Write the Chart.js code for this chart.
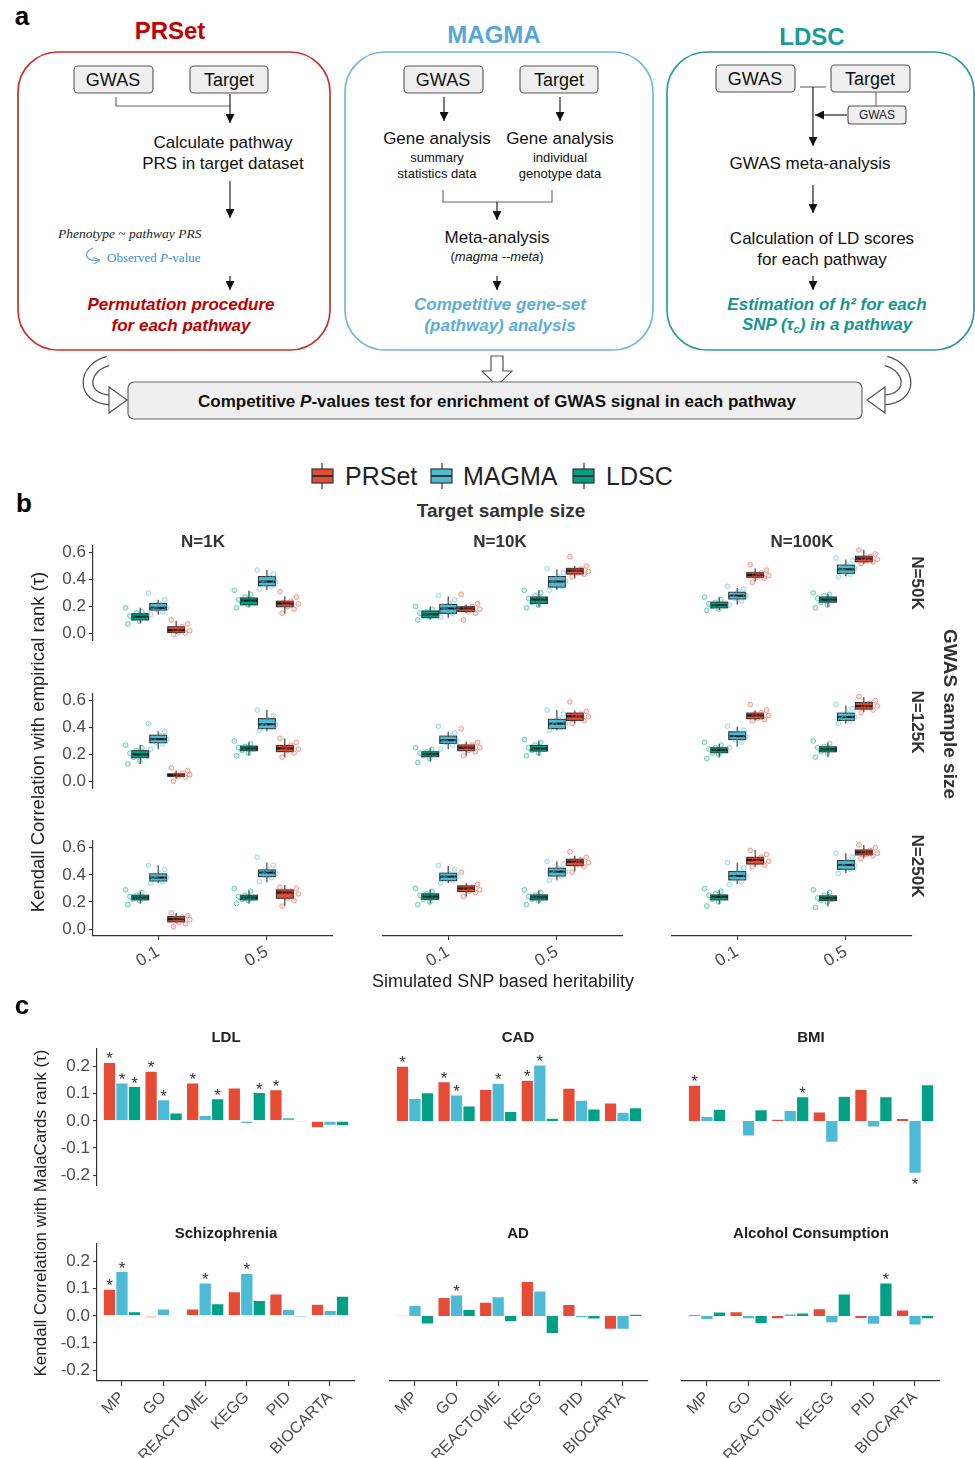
<!DOCTYPE html>
<html lang="en">
<head>
<meta charset="UTF-8" />
<title>PRSet / MAGMA / LDSC comparison</title>
<script src="https://cdn.jsdelivr.net/npm/chart.js@4"></script>
<style>
  body { margin: 0; background: #fff; font-family: "Liberation Sans", Arial, sans-serif; color: #222; }
  #page { position: relative; width: 975px; height: 1458px; overflow: hidden; background: #fff; }
  #page canvas { position: absolute; }
  .t { position: absolute; transform: translate(-50%, -50%); white-space: nowrap; line-height: 1; }
  .tl { position: absolute; transform: translate(0, -50%); white-space: nowrap; line-height: 1; }
  .up { transform: translate(-50%, -50%) rotate(-90deg); }
  .down { transform: translate(-50%, -50%) rotate(90deg); }
  .panel { font-weight: bold; font-size: 26px; color: #000; }
  .head { font-weight: bold; font-size: 24px; }
  .box { font-size: 18px; color: #111; }
  .step { font-size: 17px; color: #111; }
  .small { font-size: 13px; color: #111; }
  .res { font-size: 17px; font-weight: bold; font-style: italic; }
  .serif { font-family: "Liberation Serif", "DejaVu Serif", serif; }
  .strip { font-weight: bold; font-size: 17px; color: #333; }
  .ctitle { font-weight: bold; font-size: 15px; color: #222; }
  .leg { font-size: 25px; color: #222; }
</style>
</head>
<body>
<div id="page">

  <!-- panel a: flow chart -->
  <svg width="975" height="430" style="position:absolute;left:0;top:0">
    <defs>
      <marker id="ah" viewBox="0 0 10 10" refX="10" refY="5" markerUnits="userSpaceOnUse"
              markerWidth="9" markerHeight="9" orient="auto">
        <path d="M0,0 L10,5 L0,10 z" fill="#111" />
      </marker>
      <marker id="ahb" viewBox="0 0 10 10" refX="10" refY="5" markerUnits="userSpaceOnUse"
              markerWidth="7" markerHeight="7" orient="auto">
        <path d="M0,0 L10,5 L0,10" fill="none" stroke="#5aa6dc" stroke-width="1.5" />
      </marker>
    </defs>

    <rect x="18" y="52" width="312" height="298" rx="40" fill="none" stroke="#c9302c" stroke-width="1.7" />
    <rect x="345" y="52" width="308" height="298" rx="40" fill="none" stroke="#74b7dd" stroke-width="1.7" />
    <rect x="667" y="52" width="307" height="298" rx="40" fill="none" stroke="#2a9c97" stroke-width="1.7" />

    <g fill="#efefef" stroke="#555" stroke-width="1.1">
      <rect x="74" y="66" width="79" height="27" rx="4" />
      <rect x="190" y="66" width="78" height="27" rx="4" />
      <rect x="404" y="66" width="79" height="27" rx="4" />
      <rect x="520" y="66" width="78" height="27" rx="4" />
      <rect x="716" y="65" width="79" height="27" rx="4" />
      <rect x="831" y="65" width="79" height="27" rx="4" />
      <rect x="848" y="106" width="58" height="18" rx="3" />
    </g>

    <g fill="none" stroke="#666" stroke-width="1.1">
      <polyline points="116,97 116,106 230,106" />
      <polyline points="443,190 443,202 552,202 552,190" />
      <line x1="800" y1="87" x2="826" y2="87" />
      <line x1="876" y1="92" x2="876" y2="106" />
    </g>
    <g stroke="#222" stroke-width="1.2" marker-end="url(#ah)">
      <line x1="230" y1="94" x2="230" y2="123" />
      <line x1="230" y1="181" x2="230" y2="218" />
      <line x1="230" y1="276" x2="230" y2="290" />
      <line x1="444" y1="97" x2="444" y2="121" />
      <line x1="560" y1="97" x2="560" y2="121" />
      <line x1="497" y1="202" x2="497" y2="220" />
      <line x1="497" y1="276" x2="497" y2="290" />
      <line x1="813" y1="87" x2="813" y2="146" />
      <line x1="847" y1="115" x2="815" y2="115" />
      <line x1="813" y1="185" x2="813" y2="213" />
      <line x1="813" y1="276" x2="813" y2="290" />
    </g>
    <path d="M93,248 C83,252 84,262 100,260" fill="none" stroke="#5aa6dc" stroke-width="1.3" marker-end="url(#ahb)" />

    <!-- converging arrows -->
    <g fill="none" stroke-linecap="butt">
      <path d="M108,361 C82,368 80,398 110,400" stroke="#555" stroke-width="11" />
      <path d="M108,361 C82,368 80,398 110,400" stroke="#fff" stroke-width="8.4" />
      <path d="M886,361 C912,368 914,398 884,400" stroke="#555" stroke-width="11" />
      <path d="M886,361 C912,368 914,398 884,400" stroke="#fff" stroke-width="8.4" />
    </g>
    <polygon points="109,387 127,400 109,413" fill="#fff" stroke="#555" stroke-width="1.2" />
    <polygon points="885,387 867,400 885,413" fill="#fff" stroke="#555" stroke-width="1.2" />
    <polygon points="491,356 503,356 503,371 512,371 497,386 482,371 491,371" fill="#fff" stroke="#555" stroke-width="1.2" />
    <rect x="128" y="382" width="734" height="37" rx="6" fill="#efefef" stroke="#666" stroke-width="1.2" />
  </svg>

  <div class="t panel" style="left:22px;top:16px">a</div>
  <div class="t head" style="left:170px;top:31px;color:#c00000">PRSet</div>
  <div class="t head" style="left:494px;top:35px;color:#54a9d8">MAGMA</div>
  <div class="t head" style="left:812px;top:37px;color:#1a9b93">LDSC</div>

  <div class="t box" style="left:113px;top:80px">GWAS</div>
  <div class="t box" style="left:229px;top:80px">Target</div>
  <div class="t box" style="left:443px;top:80px">GWAS</div>
  <div class="t box" style="left:559px;top:80px">Target</div>
  <div class="t box" style="left:755px;top:79px">GWAS</div>
  <div class="t box" style="left:870px;top:79px">Target</div>
  <div class="t" style="left:877px;top:115px;font-size:12px">GWAS</div>

  <div class="t step" style="left:223px;top:142px">Calculate pathway</div>
  <div class="t step" style="left:223px;top:163px">PRS in target dataset</div>
  <div class="tl serif" style="left:58px;top:234px;font-size:13.5px;font-style:italic;color:#222">Phenotype ~ pathway PRS</div>
  <div class="tl serif" style="left:107px;top:257px;font-size:13px;color:#3a8fd0">Observed <i>P</i>-value</div>
  <div class="t res" style="left:181px;top:304px;color:#c00000">Permutation procedure</div>
  <div class="t res" style="left:181px;top:325px;color:#c00000">for each pathway</div>

  <div class="t step" style="left:437px;top:138px">Gene analysis</div>
  <div class="t small" style="left:437px;top:157px">summary</div>
  <div class="t small" style="left:437px;top:173px">statistics data</div>
  <div class="t step" style="left:560px;top:138px">Gene analysis</div>
  <div class="t small" style="left:560px;top:157px">individual</div>
  <div class="t small" style="left:560px;top:173px">genotype data</div>
  <div class="t step" style="left:497px;top:237px">Meta-analysis</div>
  <div class="t small" style="left:497px;top:256px">(<i>magma --meta</i>)</div>
  <div class="t res" style="left:500px;top:304px;color:#5aaed8">Competitive gene-set</div>
  <div class="t res" style="left:500px;top:325px;color:#5aaed8">(pathway) analysis</div>

  <div class="t step" style="left:810px;top:163px">GWAS meta-analysis</div>
  <div class="t step" style="left:822px;top:238px">Calculation of LD scores</div>
  <div class="t step" style="left:822px;top:259px">for each pathway</div>
  <div class="t res" style="left:827px;top:304px;color:#14968e">Estimation of h² for each</div>
  <div class="t res" style="left:827px;top:325px;color:#14968e">SNP (τ<span style="font-size:11px;vertical-align:-3px">c</span>) in a pathway</div>

  <div class="t" style="left:497px;top:401px;font-size:17px;font-weight:bold;color:#111">Competitive <i>P</i>-values test for enrichment of GWAS signal in each pathway</div>

  <!-- panel b labels -->
  <div class="t panel" style="left:24px;top:503px">b</div>
  <svg width="975" height="40" style="position:absolute;left:0;top:456px">
    <g stroke="#333" stroke-width="1.2">
      <line x1="322" y1="7" x2="322" y2="33" /><rect x="312" y="13" width="21" height="14" fill="#E64B35" />
      <line x1="312" y1="20" x2="333" y2="20" stroke-width="2" />
      <line x1="442" y1="7" x2="442" y2="33" /><rect x="431" y="13" width="21" height="14" fill="#4DBBD5" />
      <line x1="431" y1="20" x2="452" y2="20" stroke-width="2" />
      <line x1="584" y1="7" x2="584" y2="33" /><rect x="573" y="13" width="21" height="14" fill="#00A087" />
      <line x1="573" y1="20" x2="594" y2="20" stroke-width="2" />
    </g>
  </svg>
  <div class="tl leg" style="left:345px;top:476px">PRSet</div>
  <div class="tl leg" style="left:463px;top:476px">MAGMA</div>
  <div class="tl leg" style="left:606px;top:476px">LDSC</div>
  <div class="t" style="left:501px;top:510px;font-size:19px;font-weight:bold;color:#333">Target sample size</div>
  <div class="t strip" style="left:203px;top:541px">N=1K</div>
  <div class="t strip" style="left:500px;top:541px">N=10K</div>
  <div class="t strip" style="left:802px;top:541px">N=100K</div>
  <div class="t strip down" style="left:917px;top:583px">N=50K</div>
  <div class="t strip down" style="left:917px;top:722px">N=125K</div>
  <div class="t strip down" style="left:917px;top:866px">N=250K</div>
  <div class="t down" style="left:950px;top:714px;font-size:19px;font-weight:bold;color:#333">GWAS sample size</div>
  <div class="t up" style="left:38px;top:742px;font-size:18.5px;color:#222">Kendall Correlation with empirical rank (τ)</div>
  <div class="t" style="left:503px;top:981px;font-size:18px;color:#222">Simulated SNP based heritability</div>

  <!-- panel c labels -->
  <div class="t panel" style="left:22px;top:1005px">c</div>
  <div class="t up" style="left:40px;top:1213px;font-size:17px;color:#222">Kendall Correlation with MalaCards rank (τ)</div>
</div>

<script>
  // ---------- panel b: simulation box plots ----------
  const h2Labels = ["0.1", "0.5"];
  const bMethods = ["LDSC", "MAGMA", "PRSet"];
  const bTicks = [0, 0.2, 0.4, 0.6];

  // [whisker low, q1, median, q3, whisker high] per panel (row-major: GWAS N x target N), per h2
  const ldscBox = [
    [[0.075, 0.10, 0.124, 0.146, 0.19], [0.198, 0.212, 0.244, 0.263, 0.317]],
    [[0.105, 0.117, 0.141, 0.166, 0.20], [0.198, 0.222, 0.251, 0.27, 0.32]],
    [[0.173, 0.19, 0.21, 0.232, 0.27], [0.198, 0.232, 0.251, 0.27, 0.295]],
    [[0.13, 0.176, 0.20, 0.228, 0.27], [0.19, 0.228, 0.245, 0.262, 0.29]],
    [[0.147, 0.184, 0.203, 0.22, 0.245], [0.19, 0.225, 0.245, 0.267, 0.30]],
    [[0.18, 0.213, 0.233, 0.25, 0.277], [0.18, 0.22, 0.238, 0.257, 0.287]],
    [[0.19, 0.216, 0.233, 0.25, 0.275], [0.19, 0.216, 0.233, 0.25, 0.285]],
    [[0.19, 0.22, 0.24, 0.26, 0.29], [0.19, 0.216, 0.235, 0.252, 0.284]],
    [[0.186, 0.216, 0.238, 0.252, 0.284], [0.167, 0.211, 0.228, 0.245, 0.277]],
  ];
  const magmaBox = [
    [[0.14, 0.173, 0.19, 0.222, 0.25], [0.32, 0.354, 0.385, 0.422, 0.47]],
    [[0.117, 0.149, 0.185, 0.215, 0.275], [0.324, 0.344, 0.385, 0.422, 0.476]],
    [[0.215, 0.256, 0.28, 0.305, 0.337], [0.422, 0.446, 0.476, 0.507, 0.549]],
    [[0.238, 0.287, 0.314, 0.343, 0.375], [0.37, 0.392, 0.424, 0.466, 0.53]],
    [[0.238, 0.282, 0.306, 0.336, 0.368], [0.38, 0.392, 0.429, 0.461, 0.53]],
    [[0.257, 0.311, 0.336, 0.368, 0.404], [0.429, 0.453, 0.478, 0.507, 0.564]],
    [[0.34, 0.355, 0.38, 0.407, 0.47], [0.343, 0.387, 0.417, 0.436, 0.49]],
    [[0.338, 0.358, 0.387, 0.412, 0.466], [0.358, 0.392, 0.424, 0.449, 0.50]],
    [[0.333, 0.363, 0.392, 0.424, 0.49], [0.412, 0.441, 0.473, 0.505, 0.559]],
  ];
  const prsetBox = [
    [[-0.005, 0.007, 0.024, 0.049, 0.093], [0.146, 0.198, 0.222, 0.239, 0.276]],
    [[0.149, 0.163, 0.185, 0.198, 0.215], [0.41, 0.441, 0.466, 0.483, 0.50]],
    [[0.385, 0.417, 0.434, 0.451, 0.483], [0.515, 0.532, 0.556, 0.573, 0.622]],
    [[0.017, 0.037, 0.047, 0.056, 0.08], [0.18, 0.221, 0.245, 0.267, 0.32]],
    [[0.19, 0.228, 0.25, 0.27, 0.294], [0.43, 0.453, 0.483, 0.507, 0.527]],
    [[0.453, 0.466, 0.49, 0.507, 0.527], [0.515, 0.537, 0.56, 0.586, 0.625]],
    [[0.044, 0.054, 0.074, 0.093, 0.12], [0.172, 0.228, 0.27, 0.289, 0.326]],
    [[0.24, 0.277, 0.30, 0.319, 0.338], [0.424, 0.468, 0.497, 0.515, 0.54]],
    [[0.46, 0.48, 0.51, 0.529, 0.583], [0.522, 0.547, 0.566, 0.583, 0.62]],
  ];

  // individual replicate points (estimated from the figure)
  const ldscPts = [
    [[0.07, 0.09, 0.11, 0.12, 0.13, 0.15, 0.16, 0.19], [0.19, 0.21, 0.23, 0.24, 0.25, 0.27, 0.29, 0.32]],
    [[0.10, 0.12, 0.13, 0.14, 0.15, 0.16, 0.18, 0.20], [0.19, 0.21, 0.23, 0.25, 0.26, 0.28, 0.30, 0.32]],
    [[0.17, 0.18, 0.20, 0.21, 0.22, 0.23, 0.25, 0.27], [0.19, 0.21, 0.23, 0.25, 0.26, 0.28, 0.29, 0.30]],
    [[0.13, 0.15, 0.18, 0.20, 0.21, 0.23, 0.25, 0.27], [0.19, 0.21, 0.23, 0.24, 0.25, 0.26, 0.28, 0.30]],
    [[0.14, 0.17, 0.19, 0.20, 0.21, 0.22, 0.24, 0.25], [0.19, 0.21, 0.23, 0.24, 0.25, 0.27, 0.29, 0.31]],
    [[0.17, 0.20, 0.21, 0.23, 0.24, 0.25, 0.27, 0.29], [0.18, 0.21, 0.22, 0.24, 0.25, 0.26, 0.28, 0.30]],
    [[0.18, 0.21, 0.22, 0.23, 0.24, 0.25, 0.27, 0.29], [0.19, 0.21, 0.22, 0.23, 0.24, 0.25, 0.28, 0.30]],
    [[0.18, 0.20, 0.22, 0.24, 0.25, 0.26, 0.28, 0.30], [0.18, 0.21, 0.22, 0.23, 0.24, 0.25, 0.27, 0.29]],
    [[0.17, 0.20, 0.22, 0.24, 0.25, 0.26, 0.28, 0.30], [0.16, 0.20, 0.21, 0.22, 0.23, 0.25, 0.27, 0.29]],
  ];
  const magmaPts = [
    [[0.14, 0.16, 0.18, 0.19, 0.20, 0.22, 0.25, 0.30], [0.33, 0.35, 0.37, 0.38, 0.40, 0.42, 0.44, 0.47]],
    [[0.12, 0.15, 0.17, 0.19, 0.20, 0.22, 0.25, 0.28], [0.32, 0.35, 0.37, 0.39, 0.40, 0.42, 0.45, 0.48]],
    [[0.21, 0.24, 0.26, 0.28, 0.29, 0.31, 0.33, 0.35], [0.42, 0.44, 0.46, 0.48, 0.49, 0.51, 0.54, 0.56]],
    [[0.24, 0.28, 0.29, 0.31, 0.32, 0.34, 0.37, 0.43], [0.38, 0.40, 0.41, 0.42, 0.44, 0.46, 0.49, 0.53]],
    [[0.24, 0.27, 0.29, 0.30, 0.32, 0.34, 0.36, 0.41], [0.38, 0.40, 0.42, 0.43, 0.44, 0.46, 0.50, 0.53]],
    [[0.25, 0.29, 0.31, 0.33, 0.34, 0.36, 0.38, 0.41], [0.43, 0.45, 0.47, 0.48, 0.49, 0.51, 0.54, 0.57]],
    [[0.34, 0.35, 0.37, 0.38, 0.39, 0.41, 0.44, 0.47], [0.35, 0.38, 0.40, 0.41, 0.42, 0.44, 0.47, 0.53]],
    [[0.34, 0.36, 0.37, 0.39, 0.40, 0.41, 0.44, 0.47], [0.36, 0.39, 0.41, 0.42, 0.43, 0.45, 0.48, 0.50]],
    [[0.33, 0.35, 0.37, 0.39, 0.40, 0.42, 0.45, 0.49], [0.41, 0.44, 0.46, 0.47, 0.48, 0.50, 0.53, 0.56]],
  ];
  const prsetPts = [
    [[-0.01, 0.00, 0.01, 0.02, 0.03, 0.05, 0.07, 0.10], [0.15, 0.18, 0.20, 0.22, 0.23, 0.24, 0.27, 0.31]],
    [[0.10, 0.15, 0.16, 0.18, 0.19, 0.20, 0.22, 0.29], [0.42, 0.44, 0.45, 0.46, 0.47, 0.48, 0.50, 0.57]],
    [[0.38, 0.41, 0.42, 0.43, 0.44, 0.45, 0.47, 0.51], [0.52, 0.53, 0.54, 0.55, 0.56, 0.57, 0.59, 0.62]],
    [[0.00, 0.03, 0.04, 0.05, 0.05, 0.06, 0.08, 0.10], [0.18, 0.21, 0.23, 0.24, 0.25, 0.27, 0.29, 0.32]],
    [[0.19, 0.22, 0.23, 0.25, 0.26, 0.27, 0.29, 0.39], [0.43, 0.45, 0.47, 0.48, 0.49, 0.50, 0.52, 0.59]],
    [[0.45, 0.46, 0.47, 0.49, 0.50, 0.51, 0.53, 0.57], [0.51, 0.53, 0.55, 0.56, 0.57, 0.58, 0.60, 0.63]],
    [[0.02, 0.04, 0.05, 0.07, 0.08, 0.09, 0.10, 0.12], [0.17, 0.21, 0.23, 0.26, 0.27, 0.28, 0.30, 0.31]],
    [[0.24, 0.27, 0.28, 0.29, 0.30, 0.31, 0.33, 0.42], [0.42, 0.46, 0.48, 0.49, 0.50, 0.51, 0.53, 0.57]],
    [[0.46, 0.47, 0.49, 0.50, 0.51, 0.53, 0.55, 0.58], [0.52, 0.54, 0.55, 0.56, 0.57, 0.58, 0.60, 0.62]],
  ];

  // ---------- panel c: MalaCards correlations ----------
  const traits = ["LDL", "CAD", "BMI", "Schizophrenia", "AD", "Alcohol Consumption"];
  const pathways = ["MP", "GO", "REACTOME", "KEGG", "PID", "BIOCARTA"];
  const cMethods = ["PRSet", "MAGMA", "LDSC"];
  const cTicks = [-0.2, -0.1, 0, 0.1, 0.2];

  const prsetTau = [
    [0.216, 0.183, 0.140, 0.122, 0.115, -0.026],
    [0.202, 0.145, 0.117, 0.150, 0.121, 0.066],
    [0.132, -0.002, 0.006, 0.033, 0.117, 0.009],
    [0.099, -0.007, 0.026, 0.089, 0.081, 0.043],
    [0.001, 0.068, 0.051, 0.127, 0.042, -0.050],
    [0.004, 0.016, -0.011, 0.027, -0.010, 0.022],
  ];
  const magmaTau = [
    [0.140, 0.078, 0.020, -0.010, 0.012, -0.016],
    [0.083, 0.096, 0.139, 0.206, 0.076, 0.032],
    [0.017, -0.056, 0.039, -0.079, -0.023, -0.193],
    [0.164, 0.026, 0.122, 0.157, 0.024, 0.020],
    [0.039, 0.077, 0.071, 0.092, -0.007, -0.050],
    [-0.014, -0.011, 0.007, -0.026, -0.031, -0.034],
  ];
  const ldscTau = [
    [0.127, 0.029, 0.082, 0.105, -0.004, -0.017],
    [0.104, 0.055, 0.035, 0.010, 0.044, 0.049],
    [0.043, 0.041, 0.089, 0.091, 0.089, 0.134],
    [0.016, -0.002, 0.045, 0.057, -0.006, 0.073],
    [-0.030, 0.024, -0.022, -0.065, -0.012, 0.006],
    [0.015, -0.029, 0.011, 0.081, 0.122, -0.011],
  ];
  // 1 = significant (marked with *)
  const prsetSig = [
    [1, 1, 1, 0, 1, 0], [1, 1, 0, 1, 0, 0], [1, 0, 0, 0, 0, 0],
    [1, 0, 0, 0, 0, 0], [0, 0, 0, 0, 0, 0], [0, 0, 0, 0, 0, 0],
  ];
  const magmaSig = [
    [1, 1, 0, 0, 0, 0], [0, 1, 1, 1, 0, 0], [0, 0, 0, 0, 0, 1],
    [1, 0, 1, 1, 0, 0], [0, 1, 0, 0, 0, 0], [0, 0, 0, 0, 0, 0],
  ];
  const ldscSig = [
    [1, 0, 1, 1, 0, 0], [0, 0, 0, 0, 0, 0], [0, 0, 1, 0, 0, 0],
    [0, 0, 0, 0, 0, 0], [0, 0, 0, 0, 0, 0], [0, 0, 0, 0, 1, 0],
  ];

  // ---------- styling / layout ----------
  Chart.defaults.font.family = '"Liberation Sans", Arial, sans-serif';
  Chart.defaults.color = "#4d4d4d";
  Chart.defaults.animation = false;
  Chart.defaults.events = [];

  const page = document.getElementById("page");
  const bCols = ["#00A087", "#4DBBD5", "#E64B35"];
  const cCols = ["#E64B35", "#4DBBD5", "#00A087"];
  const boxOff = [-0.165, 0, 0.165];
  const ptOff = [-0.21, 0, 0.21];
  const boxW = 0.155;
  const jit = [-0.07, 0.04, -0.02, 0.08, -0.05, 0.01, 0.06, -0.09];

  function rgba(hex, a) {
    const n = parseInt(hex.slice(1), 16);
    return `rgba(${n >> 16},${(n >> 8) & 255},${n & 255},${a})`;
  }

  function addCanvas(left, top, w, h) {
    const c = document.createElement("canvas");
    c.width = w;
    c.height = h;
    c.style.left = left + "px";
    c.style.top = top + "px";
    page.insertBefore(c, page.firstChild);
    return c;
  }

  const gridStyle = { display: true, drawOnChartArea: false, drawTicks: true, tickLength: 4, color: "#333", lineWidth: 1.1 };
  const borderStyle = { display: true, color: "#333", width: 1.2 };

  // box, whisker and median from the stats arrays
  function boxPlugin(p) {
    const stats = [ldscBox, magmaBox, prsetBox];
    return {
      id: "box" + p,
      beforeDatasetsDraw(chart) {
        const { ctx } = chart;
        const x = chart.scales.x, y = chart.scales.y;
        const half = x.getPixelForValue(1 + boxW / 2) - x.getPixelForValue(1);
        ctx.save();
        stats.forEach((arr, mi) => {
          arr[p].forEach((s, h) => {
            const cx = x.getPixelForValue(h + 1 + boxOff[mi]);
            ctx.strokeStyle = "#333";
            ctx.lineWidth = 1.1;
            ctx.beginPath();
            ctx.moveTo(cx, y.getPixelForValue(s[0]));
            ctx.lineTo(cx, y.getPixelForValue(s[4]));
            ctx.stroke();
            const top = y.getPixelForValue(s[3]), bot = y.getPixelForValue(s[1]);
            ctx.fillStyle = bCols[mi];
            ctx.fillRect(cx - half, top, 2 * half, bot - top);
            ctx.strokeRect(cx - half, top, 2 * half, bot - top);
            ctx.strokeStyle = "#1a1a1a";
            ctx.lineWidth = 2.2;
            ctx.beginPath();
            ctx.moveTo(cx - half, y.getPixelForValue(s[2]));
            ctx.lineTo(cx + half, y.getPixelForValue(s[2]));
            ctx.stroke();
          });
        });
        ctx.restore();
      },
    };
  }

  const bColL = [93, 383, 672], bRowT = [545, 693, 840], bW = 240, bH = 96;
  const bPts = [ldscPts, magmaPts, prsetPts];

  for (let r = 0; r < 3; r++) {
    for (let c = 0; c < 3; c++) {
      const p = r * 3 + c;
      const yW = c === 0 ? 52 : 0, xH = r === 2 ? 46 : 0;
      const padL = 20, padT = 4, padR = 4, padB = r === 2 ? 0 : 4;
      const cv = addCanvas(bColL[c] - yW - padL, bRowT[r] - padT, padL + yW + bW + padR, padT + bH + xH + padB);
      new Chart(cv, {
        type: "scatter",
        data: {
          datasets: bMethods.map((m, mi) => ({
            label: m,
            data: bPts[mi][p].flatMap((arr, h) => arr.map((v, k) => ({ x: h + 1 + ptOff[mi] + jit[k], y: v }))),
            pointRadius: 2.4,
            borderWidth: 0.9,
            borderColor: rgba(bCols[mi], 0.55),
            backgroundColor: rgba(bCols[mi], 0.15),
          })),
        },
        options: {
          responsive: false,
          layout: { padding: { left: padL, top: padT, right: padR, bottom: padB } },
          plugins: { legend: { display: false }, tooltip: { enabled: false } },
          scales: {
            x: {
              type: "linear", min: 0.4, max: 2.6, display: r === 2,
              afterBuildTicks: (s) => { s.ticks = [{ value: 1 }, { value: 2 }]; },
              afterFit: (s) => { s.height = xH; s.paddingLeft = 0; s.paddingRight = 0; },
              ticks: { callback: (v) => h2Labels[v - 1], color: "#4d4d4d", font: { size: 17 }, minRotation: 30, maxRotation: 30, padding: 2 },
              grid: gridStyle, border: borderStyle,
            },
            y: {
              min: -0.05, max: 0.65, display: c === 0,
              afterBuildTicks: (s) => { s.ticks = bTicks.map((v) => ({ value: v })); },
              afterFit: (s) => { s.width = yW; s.paddingTop = 0; s.paddingBottom = 0; },
              ticks: { callback: (v) => v.toFixed(1), color: "#4d4d4d", font: { size: 17 }, padding: 3 },
              grid: gridStyle, border: borderStyle,
            },
          },
        },
        plugins: [boxPlugin(p)],
      });
    }
  }

  // significance stars above / below the bars
  function starPlugin(t) {
    const tau = [prsetTau, magmaTau, ldscTau], sig = [prsetSig, magmaSig, ldscSig];
    return {
      id: "star" + t,
      afterDatasetsDraw(chart) {
        const ctx = chart.ctx;
        ctx.save();
        ctx.fillStyle = "#333";
        ctx.font = '17px "Liberation Sans", Arial, sans-serif';
        ctx.textAlign = "center";
        ctx.textBaseline = "middle";
        sig.forEach((s, mi) => {
          const meta = chart.getDatasetMeta(mi);
          s[t].forEach((on, i) => {
            if (!on) return;
            const el = meta.data[i];
            const cy = tau[mi][t][i] >= 0 ? el.y - 7 : el.y + 8;
            ctx.fillText("*", el.x, cy + 4.5);
          });
        });
        ctx.restore();
      },
    };
  }

  const cColL = [97, 390, 682], cRowT = [1049, 1244], cW = 258, cH = 137;
  const cTau = [prsetTau, magmaTau, ldscTau];

  traits.forEach((name, t) => {
    const r = t < 3 ? 0 : 1, c = t % 3;
    const yW = c === 0 ? 55 : 0, xH = r === 1 ? 80 : 0;
    const padL = 25, padT = 14, padR = 6, padB = r === 1 ? 0 : 16;
    const cv = addCanvas(cColL[c] - yW - padL, cRowT[r] - padT, padL + yW + cW + padR, padT + cH + xH + padB);
    new Chart(cv, {
      type: "bar",
      data: {
        datasets: cMethods.map((m, mi) => ({
          label: m,
          data: cTau[mi][t].map((v, i) => ({ x: i, y: v })),
          backgroundColor: cCols[mi],
          borderColor: "rgba(255,255,255,0.9)",
          borderWidth: 0.6,
          categoryPercentage: 0.9,
          barPercentage: 1,
        })),
      },
      options: {
        responsive: false,
        layout: { padding: { left: padL, top: padT, right: padR, bottom: padB } },
        plugins: { legend: { display: false }, tooltip: { enabled: false } },
        scales: {
          x: {
            type: "linear", min: -0.6, max: 5.6, offset: false, display: r === 1,
            afterBuildTicks: (s) => { s.ticks = pathways.map((_, i) => ({ value: i })); },
            afterFit: (s) => { s.height = xH; s.paddingLeft = 0; s.paddingRight = 0; },
            ticks: { callback: (v) => pathways[v], color: "#4d4d4d", font: { size: 16 }, minRotation: 45, maxRotation: 45, padding: 2 },
            grid: Object.assign({}, gridStyle, { offset: false, tickLength: 5 }), border: borderStyle,
          },
          y: {
            min: -0.24, max: 0.265, display: c === 0,
            afterBuildTicks: (s) => { s.ticks = cTicks.map((v) => ({ value: v })); },
            afterFit: (s) => { s.width = yW; s.paddingTop = 0; s.paddingBottom = 0; },
            ticks: { callback: (v) => v.toFixed(1), color: "#4d4d4d", font: { size: 17 }, padding: 3 },
            grid: gridStyle, border: borderStyle,
          },
        },
      },
      plugins: [starPlugin(t)],
    });

    const title = document.createElement("div");
    title.className = "t ctitle";
    title.style.left = [226, 518, 811][c] + "px";
    title.style.top = (r === 0 ? 1036 : 1232) + "px";
    title.textContent = name;
    page.appendChild(title);
  });
</script>
</body>
</html>
